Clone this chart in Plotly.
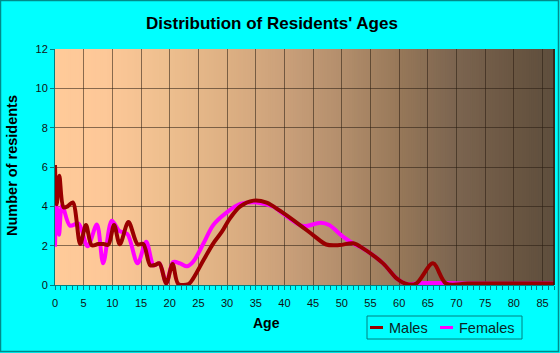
import numpy as np
import plotly.graph_objects as go

# ---- data ----
males_age = [0, 0.3, 0.75, 1.5, 2.2, 3.1, 4.4, 5.4, 6.4, 7.5, 8.5, 9.3, 10.3, 11.3, 12.8,
             14.4, 15.4, 16.6, 17.4, 18.2, 19.4, 20.5, 21.5, 23.3, 24.1, 25.9, 27.6, 29.1,
             30.5, 32.3, 34.6, 36.9, 39.2, 42.7, 45, 47.3, 49.6, 52, 53.7, 57.2, 59.5,
             61.3, 63, 65.9, 68.2, 72, 80, 87]
males_n = [6.1, 4.1, 5.55, 3.95, 4.0, 4.2, 2.08, 3.05, 2.02, 2.08, 2.08, 2.05, 3.05, 2.07, 3.2,
           2.07, 2.08, 1.0, 1.02, 1.1, 0.08, 1.07, 0.05, 0.05, 0.34, 1.27, 2.12, 2.71,
           3.39, 4.0, 4.29, 4.19, 3.78, 3.05, 2.54, 2.06, 2.03, 2.12, 1.86, 1.1, 0.35,
           0.05, 0.08, 1.1, 0.07, 0.07, 0.07, 0.07]

females_age = [0, 0.3, 0.7, 1.25, 2.6, 4.1, 5.7, 7.3, 8.4, 9.9, 11.2, 12.6, 14.4, 15.9, 17.2,
               18.2, 19.4, 20.6, 21.8, 23, 24.1, 25.9, 27.6, 29.9, 32.3, 35.2, 38.1, 39.2,
               42.7, 43.8, 46.3, 47.8, 50.2, 52.3, 53.7, 57.2, 59.5, 61.3, 63.5, 68, 72, 87]
females_n = [1.95, 4.0, 2.55, 4.05, 3.02, 3.12, 1.97, 3.08, 1.1, 3.27, 2.75, 2.6, 1.1, 2.2, 1.0,
             1.1, 0.1, 1.17, 1.1, 0.95, 1.19, 2.12, 3.05, 3.68, 4.12, 4.2, 3.98, 3.75,
             3.05, 3.0, 3.16, 3.05, 2.46, 2.06, 1.86, 1.1, 0.35, 0.05, 0.1, 0.1, 0.07, 0.07]

x_ticks = list(range(0, 90, 5))
y_ticks = list(range(0, 14, 2))

series_names = ["Males", "Females"]
series_colors = ["#990000", "#FF00FF"]

# ---- figure ----
W, H = 560, 353
L, R, T, B = 55, 6, 49, 68
pw, ph = W - L - R, H - T - B
XMAX, YMAX = 87, 12

def px(xp):
    return (xp - L) / pw

def py(yp):
    return (H - B - yp) / ph

# background gradient (peach -> dark brown), drawn as thin strips below the grid
grad_pos = [0, 0.1, 0.23, 0.345, 0.46, 0.575, 0.69, 0.8, 0.92, 1]
grad_hex = ["#FFCA99", "#FDC898", "#EDBE8E", "#DDB083", "#CAA07A", "#B38E6C",
            "#977859", "#7C6550", "#6A5642", "#5E4E3D"]
grad_rgb = np.array([[int(h[i:i + 2], 16) for i in (1, 3, 5)] for h in grad_hex], float)
n_strips = 220
edges = np.linspace(0, 1, n_strips + 1)
bg_shapes = []
for i in range(n_strips):
    f = (edges[i] + edges[i + 1]) / 2
    c = [np.interp(f, grad_pos, grad_rgb[:, k]) for k in range(3)]
    bg_shapes.append(dict(type="rect", xref="paper", yref="paper",
                          x0=edges[i], x1=edges[i + 1] + 0.002, y0=0, y1=1,
                          fillcolor="rgb(%d,%d,%d)" % tuple(int(round(v)) for v in c),
                          line=dict(width=0), layer="below"))

fig = go.Figure()
fig.add_trace(go.Scatter(
    x=females_age, y=females_n, name=series_names[1], mode="lines", showlegend=False,
    line=dict(color=series_colors[1], width=4, shape="spline", smoothing=0.9)))
fig.add_trace(go.Scatter(
    x=males_age, y=males_n, name=series_names[0], mode="lines", showlegend=False,
    line=dict(color=series_colors[0], width=4, shape="spline", smoothing=0.9)))

axis_teal = "#008080"
grid_col = "rgba(40,28,16,0.55)"

# custom legend (box, line samples, labels)
leg_shapes = [
    dict(type="rect", xref="paper", yref="paper", x0=px(367), x1=px(522),
         y0=py(339), y1=py(316), line=dict(color=axis_teal, width=1), fillcolor="#00FFFF",
         layer="above"),
]
leg_ann = []
for name, col, sx, tx in zip(series_names, series_colors, [370, 440], [387, 457]):
    leg_shapes.append(dict(type="line", xref="paper", yref="paper", x0=px(sx), x1=px(sx + 13),
                           y0=py(327.5), y1=py(327.5), line=dict(color=col, width=3),
                           layer="above"))
    leg_ann.append(dict(text=name, xref="paper", yref="paper", x=px(tx), y=py(327.5),
                        xanchor="left", yanchor="middle", showarrow=False,
                        font=dict(size=14.5, color="#0a2626")))

fig.update_layout(
    width=W, height=H,
    margin=dict(l=L, r=R, t=T, b=B, autoexpand=False),
    paper_bgcolor="#00FFFF",
    plot_bgcolor="#FFCC99",
    font=dict(family="Liberation Sans, Arial, sans-serif", size=11, color="#111111"),
    showlegend=False,
    xaxis=dict(range=[0, XMAX], tickvals=x_ticks, ticks="outside", ticklen=4,
               tickcolor=axis_teal, showline=True, linecolor=axis_teal, linewidth=1,
               showgrid=True, gridcolor=grid_col, gridwidth=1, zeroline=False,
               ticklabelstandoff=4, layer="above traces",
               minor=dict(dtick=1, ticks="outside", ticklen=4, tickcolor=axis_teal, showgrid=False),
               tickfont=dict(size=11, color="#111111")),
    yaxis=dict(range=[0, YMAX], tickvals=y_ticks, ticks="outside", ticklen=4,
               tickcolor=axis_teal, showline=True, linecolor=axis_teal, linewidth=1,
               showgrid=True, gridcolor=grid_col, gridwidth=1, zeroline=False,
               layer="above traces",
               tickfont=dict(size=11, color="#111111")),
    title=dict(text="<b>Distribution of Residents' Ages</b>", x=272 / W, xanchor="center",
               y=1 - 23 / H, yanchor="middle", yref="container",
               font=dict(size=17, color="#000000")),
    annotations=[
        dict(text="<b>Number of residents</b>", textangle=-90, xref="paper", yref="paper",
             x=px(12), y=py(166), showarrow=False, font=dict(size=14.5, color="#000000"),
             xanchor="center", yanchor="middle"),
        dict(text="<b>Age</b>", xref="paper", yref="paper", x=px(266), y=py(323),
             showarrow=False, font=dict(size=14, color="#000000"),
             xanchor="center", yanchor="middle"),
    ] + leg_ann,
    shapes=bg_shapes + [
        dict(type="line", xref="paper", yref="paper", x0=1, x1=1, y0=0, y1=1,
             line=dict(color="rgba(30,22,12,0.85)", width=1.5), layer="above"),
        dict(type="rect", xref="paper", yref="paper", x0=px(0.5), x1=px(558.5),
             y0=py(351.5), y1=py(0.5), line=dict(color="#008B8B", width=1.5), layer="above"),
    ] + leg_shapes,
)

fig.write_html("out.html")
